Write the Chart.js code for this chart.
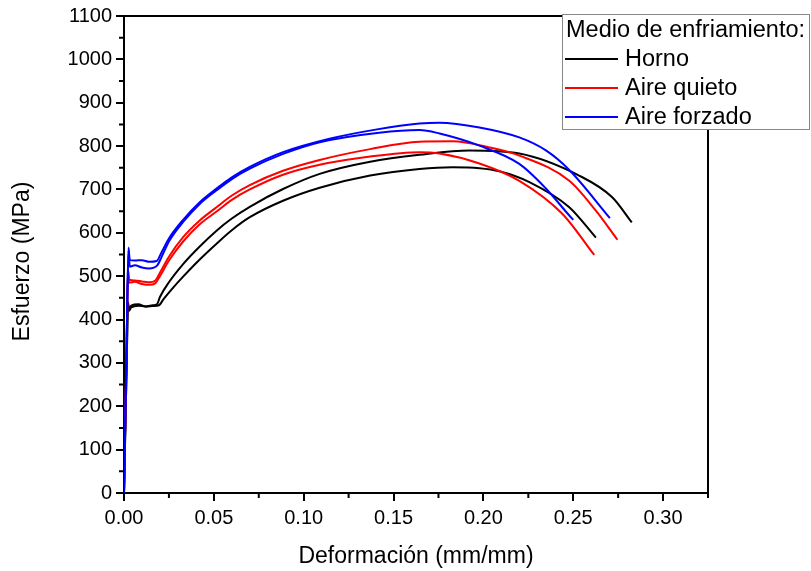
<!DOCTYPE html>
<html>
<head>
<meta charset="utf-8">
<script src="https://cdn.jsdelivr.net/npm/chart.js@4.4.1/dist/chart.umd.min.js"></script>
<style>
  html, body { margin: 0; padding: 0; background: #fff; }
  #wrap { width: 811px; height: 571px; }
</style>
</head>
<body>
<div id="wrap"><canvas id="curvas" width="811" height="571"></canvas></div>
<script>
//*Data
const mediums = ['Horno', 'Aire quieto', 'Aire forzado'];
const xTickValues = [0, 0.05, 0.10, 0.15, 0.20, 0.25, 0.30];
const yTickValues = [0, 100, 200, 300, 400, 500, 600, 700, 800, 900, 1000, 1100];
const xTitle = 'Deformación (mm/mm)';
const yTitle = 'Esfuerzo (MPa)';

//? Horno (two specimens)
const hornoAStrain = [0, 0.0015, 0.0022, 0.0028, 0.004, 0.008, 0.012, 0.016, 0.0185, 0.020, 0.025, 0.0329, 0.042, 0.0515, 0.060, 0.070, 0.0885, 0.1089, 0.137, 0.1644, 0.1922, 0.22, 0.2533, 0.2717, 0.2826];
const hornoAStress = [0, 300, 440, 425, 432, 435, 430, 433, 436, 452, 486, 528, 568, 605, 633, 660, 701, 736, 764, 780, 790, 783, 732, 682, 624];
const hornoBStrain = [0, 0.0015, 0.0022, 0.0028, 0.004, 0.008, 0.012, 0.016, 0.0195, 0.022, 0.027, 0.0329, 0.042, 0.0515, 0.060, 0.070, 0.0885, 0.1089, 0.137, 0.1644, 0.1828, 0.1978, 0.2089, 0.2256, 0.2478, 0.2626];
const hornoBStress = [0, 300, 430, 420, 428, 432, 430, 431, 433, 447, 472, 499, 538, 575, 606, 636, 674, 704, 732, 747, 751, 749, 742, 717, 659, 589];

//? Aire quieto
const quietoAStrain = [0, 0.0015, 0.0022, 0.003, 0.006, 0.010, 0.014, 0.0175, 0.020, 0.025, 0.0329, 0.042, 0.0515, 0.060, 0.070, 0.0885, 0.1089, 0.137, 0.1644, 0.1828, 0.2033, 0.22, 0.2478, 0.2626, 0.2746];
const quietoAStress = [0, 350, 515, 492, 490, 488, 486, 490, 508, 545, 590, 628, 659, 686, 710, 743, 768, 793, 810, 811, 797, 778, 720, 651, 584];
const quietoBStrain = [0, 0.0015, 0.0022, 0.003, 0.006, 0.010, 0.014, 0.0175, 0.020, 0.025, 0.0329, 0.042, 0.0515, 0.060, 0.070, 0.0885, 0.1089, 0.137, 0.1644, 0.1756, 0.1978, 0.22, 0.2439, 0.2617];
const quietoBStress = [0, 350, 505, 485, 487, 482, 480, 484, 500, 536, 580, 619, 649, 676, 700, 734, 757, 776, 786, 783, 760, 720, 644, 549];

//? Aire forzado
const forzadoAStrain = [0, 0.0015, 0.0025, 0.0032, 0.006, 0.010, 0.014, 0.0182, 0.021, 0.025, 0.0329, 0.042, 0.0515, 0.060, 0.070, 0.0885, 0.1144, 0.14, 0.1644, 0.1756, 0.1978, 0.22, 0.2348, 0.2478, 0.2704];
const forzadoAStress = [0, 350, 566, 537, 536, 537, 533, 535, 556, 587, 630, 670, 702, 728, 752, 786, 817, 838, 852, 854, 843, 820, 790, 745, 634];
const forzadoBStrain = [0, 0.0015, 0.0025, 0.0032, 0.006, 0.010, 0.014, 0.0185, 0.021, 0.025, 0.0329, 0.042, 0.0515, 0.060, 0.070, 0.0885, 0.1089, 0.142, 0.1644, 0.1756, 0.1978, 0.22, 0.2344, 0.2478, 0.25];
const forzadoBStress = [0, 350, 560, 522, 525, 520, 518, 525, 545, 580, 625, 666, 698, 724, 748, 782, 809, 831, 837, 829, 801, 759, 704, 640, 630];

//*Styles
const colors = ['#000000', '#ff0000', '#0000ff'];
const fontFamily = "'Liberation Sans', Arial, sans-serif";
Chart.defaults.font.family = fontFamily;
Chart.defaults.color = '#000';

const toPoints = (strain, stress) => strain.map((x, i) => ({ x: x, y: stress[i] }));

const curve = (medio, strain, stress) => ({
  label: mediums[medio],
  data: toPoints(strain, stress),
  borderColor: colors[medio],
  borderWidth: 2,
  pointRadius: 0,
  fill: false,
  cubicInterpolationMode: 'monotone',
});

// first dataset ends up drawn on top
const datasets = [
  curve(2, forzadoAStrain, forzadoAStress),
  curve(2, forzadoBStrain, forzadoBStress),
  curve(1, quietoAStrain, quietoAStress),
  curve(1, quietoBStrain, quietoBStress),
  curve(0, hornoAStrain, hornoAStress),
  curve(0, hornoBStrain, hornoBStress),
];

//*Frame, minor ticks, y title and legend box
const minorOf = (values, max) => {
  const step = values[1] - values[0];
  const out = [];
  for (let i = 0; i < values.length; i++) {
    const v = values[i] + step / 2;
    if (v <= max + 1e-9) out.push(v);
  }
  return out;
}

const framePlugin = {
  id: 'framePlugin',
  afterDraw(chart) {
    const ctx = chart.ctx;
    const a = chart.chartArea;
    const xs = chart.scales.x;
    const ys = chart.scales.y;
    ctx.save();
    ctx.strokeStyle = '#000';
    ctx.lineWidth = 2;
    // top and right edges
    ctx.beginPath();
    ctx.moveTo(a.left, a.top);
    ctx.lineTo(a.right, a.top);
    ctx.lineTo(a.right, a.bottom);
    ctx.stroke();
    // minor ticks
    ctx.beginPath();
    minorOf(xTickValues, xs.max).forEach(v => {
      const px = xs.getPixelForValue(v);
      ctx.moveTo(px, a.bottom);
      ctx.lineTo(px, a.bottom + 5);
    });
    minorOf(yTickValues, ys.max).forEach(v => {
      const py = ys.getPixelForValue(v);
      ctx.moveTo(a.left, py);
      ctx.lineTo(a.left - 5, py);
    });
    ctx.stroke();

    // y title, a bit below the middle of the axis
    ctx.fillStyle = '#000';
    ctx.font = '23px ' + fontFamily;
    ctx.textAlign = 'center';
    ctx.textBaseline = 'middle';
    ctx.save();
    ctx.translate(23, (a.top + a.bottom) / 2 + 7);
    ctx.rotate(-Math.PI / 2);
    ctx.fillText(yTitle, 0, 0);
    ctx.restore();

    // legend
    const left = a.right - 146, top = a.top - 2;
    ctx.fillStyle = '#fff';
    ctx.fillRect(left, top, 248, 116);
    ctx.strokeStyle = '#888';
    ctx.lineWidth = 1;
    ctx.strokeRect(left + 0.5, top + 0.5, 247, 115);
    ctx.font = '23.5px ' + fontFamily;
    ctx.textAlign = 'left';
    ctx.textBaseline = 'alphabetic';
    ctx.fillStyle = '#000';
    ctx.fillText('Medio de enfriamiento:', left + 4, top + 23);
    mediums.forEach((name, i) => {
      const base = top + 52 + i * 29;
      ctx.strokeStyle = colors[i];
      ctx.lineWidth = 2;
      ctx.beginPath();
      ctx.moveTo(left + 3, base - 7);
      ctx.lineTo(left + 56, base - 7);
      ctx.stroke();
      ctx.fillStyle = '#000';
      ctx.fillText(name, left + 63, base);
    });
    ctx.restore();
  }
}

//*Chart
const ctx = document.getElementById('curvas').getContext('2d');
const chart = new Chart(ctx, {
  type: 'line',
  data: { datasets: datasets },
  options: {
    responsive: false,
    devicePixelRatio: 1,
    animation: false,
    layout: { padding: { top: 15, right: 103, left: 0, bottom: 0 } },
    plugins: {
      legend: { display: false },
      tooltip: { enabled: false },
    },
    scales: {
      x: {
        type: 'linear',
        min: 0,
        max: 0.325,
        afterBuildTicks: s => { s.ticks = xTickValues.map(v => ({ value: v })); },
        afterFit: s => { s.height = 78; },
        ticks: { font: { size: 20 }, padding: 5, maxRotation: 0, autoSkip: false, callback: v => Number(v).toFixed(2) },
        grid: { drawOnChartArea: false, tickLength: 8, color: '#000', lineWidth: 2 },
        border: { color: '#000', width: 2 },
        title: { display: true, text: xTitle, font: { size: 23 }, padding: { top: 0, bottom: 1 } },
      },
      y: {
        type: 'linear',
        min: 0,
        max: 1100,
        afterBuildTicks: s => { s.ticks = yTickValues.map(v => ({ value: v })); },
        afterFit: s => { s.width = 124; },
        ticks: { font: { size: 20 }, padding: 4, autoSkip: false, callback: v => String(v) },
        grid: { drawOnChartArea: false, tickLength: 8, color: '#000', lineWidth: 2 },
        border: { color: '#000', width: 2 },
        title: { display: false },
      },
    },
  },
  plugins: [framePlugin],
});
</script>
</body>
</html>
